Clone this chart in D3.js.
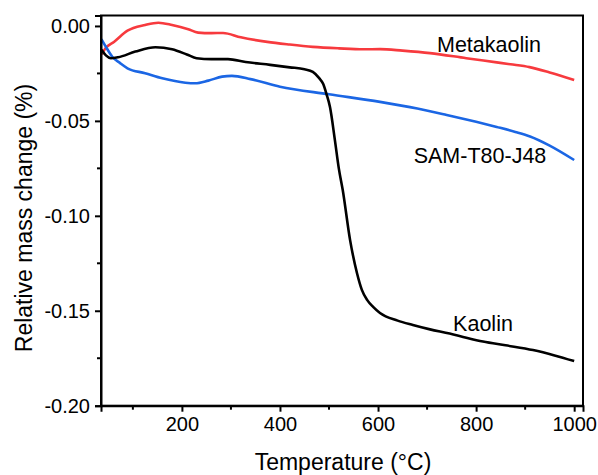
<!DOCTYPE html>
<html>
<head>
<meta charset="utf-8">
<script src="https://cdn.jsdelivr.net/npm/d3@7"></script>
<style>
  body { margin: 0; background: #fff; }
  svg { display: block; font-family: "Liberation Sans", Arial, sans-serif; }
</style>
</head>
<body>
<svg id="chart" width="598" height="475"></svg>
<script>
// ---- Data ----
const kaolinT = [36, 45, 55, 70, 105, 146, 180, 210, 230, 260, 294, 330, 380, 420, 450, 467, 480, 488, 495, 502, 512, 520, 528, 543, 557, 567, 578, 590, 604, 640, 671, 706, 746, 780, 814, 860, 916, 960, 1000];
const kaolinV = [-0.0125, -0.0155, -0.0170, -0.0165, -0.0135, -0.0112, -0.0123, -0.0150, -0.0170, -0.0175, -0.0175, -0.0190, -0.0205, -0.0218, -0.0228, -0.0242, -0.0275, -0.0305, -0.0360, -0.0427, -0.0601, -0.0750, -0.0864, -0.1128, -0.1301, -0.1390, -0.1444, -0.1480, -0.1512, -0.1552, -0.1575, -0.1598, -0.1620, -0.1642, -0.1662, -0.1682, -0.1707, -0.1735, -0.1765];

const metaT = [36, 45, 62, 89, 125, 152, 180, 213, 233, 260, 284, 320, 374, 420, 467, 520, 570, 604, 650, 706, 780, 842, 870, 909, 950, 1000];
const metaV = [-0.0150, -0.0115, -0.0083, -0.0025, 0.0005, 0.0017, 0.0005, -0.0017, -0.0035, -0.0038, -0.0037, -0.0060, -0.0084, -0.0098, -0.0110, -0.0118, -0.0123, -0.0122, -0.0130, -0.0143, -0.0170, -0.0192, -0.0202, -0.0217, -0.0245, -0.0285];

const samT = [36, 45, 58, 74, 89, 125, 160, 207, 227, 254, 282, 302, 340, 400, 500, 604, 680, 740, 800, 842, 880, 910, 950, 1000];
const samV = [-0.0070, -0.0110, -0.0162, -0.0196, -0.0223, -0.0249, -0.0276, -0.0299, -0.0302, -0.0288, -0.0267, -0.0263, -0.0280, -0.0320, -0.0360, -0.0400, -0.0435, -0.0469, -0.0505, -0.0532, -0.0558, -0.0582, -0.0630, -0.0706];

const xTicks = [200, 400, 600, 800, 1000];
const xMinor = [100, 300, 500, 700, 900];
const yTicks = [0, -0.05, -0.10, -0.15, -0.20];
const yMinor = [-0.025, -0.075, -0.125, -0.175];

const seriesNames = ["Kaolin", "Metakaolin", "SAM-T80-J48"];
const seriesColors = ["#000000", "#f73a3e", "#1b66e4"];

// ---- Layout ----
const svg = d3.select("#chart");
const L = 101, R = 583, T = 15.5, B = 405.7;
const x = d3.scaleLinear().domain([35, 1018]).range([L, R]);
const y = d3.scaleLinear().domain([-0.2, 0.0055]).range([B, T]);

const series = [
  { name: seriesNames[0], color: seriesColors[0], t: kaolinT, v: kaolinV, lx: 483, ly: -0.1604 },
  { name: seriesNames[1], color: seriesColors[1], t: metaT, v: metaV, lx: 489, ly: -0.0137 },
  { name: seriesNames[2], color: seriesColors[2], t: samT, v: samV, lx: 480, ly: -0.0722 }
];

const line = d3.line().x(d => x(d[0])).y(d => y(d[1])).curve(d3.curveMonotoneX);

const order = [1, 2, 0];
order.forEach(i => {
  const s = series[i];
  svg.append("path")
    .datum(s.t.map((t, k) => [t, s.v[k]]))
    .attr("d", line)
    .attr("fill", "none")
    .attr("stroke", s.color)
    .attr("stroke-width", 2.6)
    .attr("stroke-linejoin", "round");
});

// frame
svg.append("rect")
  .attr("x", L).attr("y", T).attr("width", R - L).attr("height", B - T)
  .attr("fill", "none").attr("stroke", "#000").attr("stroke-width", 2);

// axes
const xAxis = svg.append("g").attr("transform", `translate(0,${B})`)
  .call(d3.axisBottom(x).tickValues(xTicks).tickSize(6).tickPadding(5).tickFormat(d3.format("d")));
xAxis.append("g").selectAll("line").data(xMinor).join("line")
  .attr("x1", d => x(d)).attr("x2", d => x(d)).attr("y1", 0).attr("y2", 4)
  .attr("stroke", "#000").attr("stroke-width", 2);

const yAxis = svg.append("g").attr("transform", `translate(${L},0)`)
  .call(d3.axisLeft(y).tickValues(yTicks).tickSize(6).tickPadding(5).tickFormat(d3.format(".2f")));
yAxis.append("g").selectAll("line").data(yMinor).join("line")
  .attr("x1", 0).attr("x2", -4).attr("y1", d => y(d)).attr("y2", d => y(d))
  .attr("stroke", "#000").attr("stroke-width", 2);

[xAxis, yAxis].forEach(a => {
  a.select(".domain").attr("stroke-width", 2);
  a.selectAll(".tick line").attr("stroke-width", 2);
  a.selectAll(".tick text").attr("font-size", 20).attr("fill", "#000")
    .attr("font-family", "'Liberation Sans', Arial, sans-serif");
});
yAxis.selectAll(".tick text").text(d => d === 0 ? "0.00" : d3.format(".2f")(d).replace("−", "-"));

// axis titles
svg.append("text")
  .attr("x", 343).attr("y", 470)
  .attr("text-anchor", "middle").attr("font-size", 23).attr("fill", "#000")
  .text("Temperature (°C)");
svg.append("text")
  .attr("transform", "translate(32,218) rotate(-90)")
  .attr("text-anchor", "middle").attr("font-size", 23).attr("fill", "#000")
  .text("Relative mass change (%)");

// series labels
series.forEach(s => {
  svg.append("text")
    .attr("x", s.lx).attr("y", y(s.ly))
    .attr("text-anchor", "middle").attr("font-size", 21.5).attr("fill", "#000")
    .text(s.name);
});
</script>
</body>
</html>
